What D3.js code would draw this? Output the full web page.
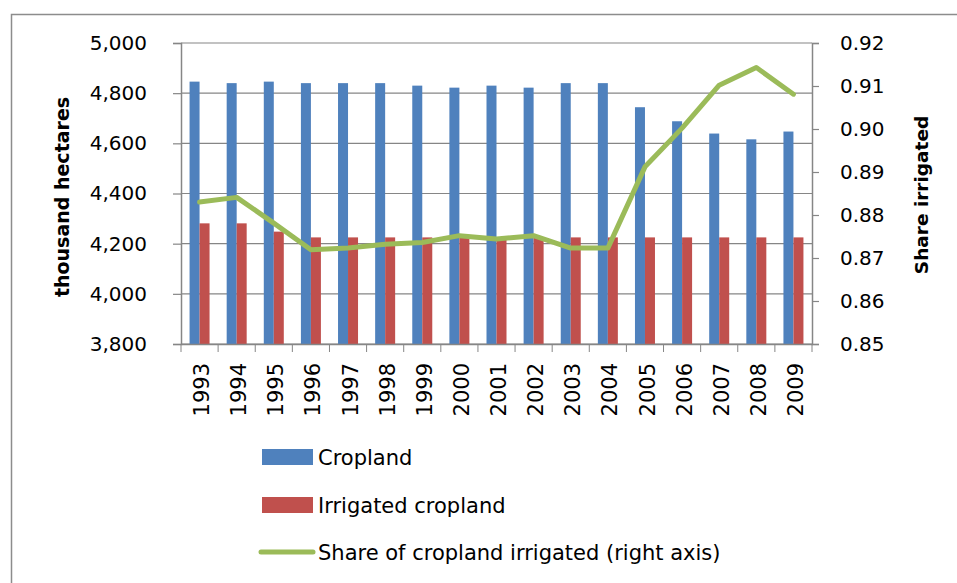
<!DOCTYPE html>
<html>
<head>
<meta charset="utf-8">
<script src="https://cdn.jsdelivr.net/npm/d3@7"></script>
<style>
  body { margin: 0; background: #fff; }
  text { font-family: "DejaVu Sans", sans-serif; fill: #000; }
</style>
</head>
<body>
<div class="chart-container"></div>
<script>
const years = ["1993","1994","1995","1996","1997","1998","1999","2000","2001","2002","2003","2004","2005","2006","2007","2008","2009"];
const cropland = [4846, 4840, 4846, 4840, 4840, 4840, 4830, 4822, 4830, 4822, 4840, 4840, 4744, 4688, 4639, 4616, 4647];
const irrigated = [4281, 4281, 4248, 4225, 4225, 4225, 4225, 4225, 4225, 4225, 4225, 4225, 4225, 4225, 4225, 4225, 4225];
const share = [0.8830, 0.8841, 0.8781, 0.8719, 0.8723, 0.8732, 0.8736, 0.8752, 0.8744, 0.8752, 0.8723, 0.8723, 0.8912, 0.9002, 0.9102, 0.9143, 0.9081];
const leftTicks = [3800, 4000, 4200, 4400, 4600, 4800, 5000];
const rightTicks = [0.85, 0.86, 0.87, 0.88, 0.89, 0.90, 0.91, 0.92];
const legendItems = ["Cropland", "Irrigated cropland", "Share of cropland irrigated (right axis)"];

const width = 957, height = 583;
const blue = "#4f81bd", red = "#c0504d", green = "#9bbb59", grey = "#868686";
const plot = {left: 181, right: 812, top: 43, bottom: 344};

const svg = d3.select(".chart-container")
  .append("svg")
  .attr("width", width)
  .attr("height", height);

// outer chart border
svg.append("rect")
  .attr("x", 11.5).attr("y", 14.5)
  .attr("width", 960).attr("height", 600)
  .attr("fill", "none")
  .attr("stroke", "#8c8c8c")
  .attr("stroke-width", 1.5);

const x = d3.scaleBand().domain(years).range([plot.left, plot.right]);
const yL = d3.scaleLinear().domain([3800, 5000]).range([plot.bottom, plot.top]);
const yR = d3.scaleLinear().domain([0.85, 0.92]).range([plot.bottom, plot.top]);
const barW = 10;

// gridlines
svg.append("g")
  .selectAll("line")
  .data(leftTicks)
  .enter().append("line")
  .attr("x1", plot.left).attr("x2", plot.right)
  .attr("y1", d => yL(d)).attr("y2", d => yL(d))
  .attr("stroke", grey).attr("stroke-width", 1.2);

// bars
svg.append("g")
  .selectAll("rect")
  .data(cropland)
  .enter().append("rect")
  .attr("x", (d, i) => x(years[i]) + x.bandwidth() / 2 - barW)
  .attr("y", d => yL(d))
  .attr("width", barW)
  .attr("height", d => plot.bottom - yL(d))
  .attr("fill", blue);

svg.append("g")
  .selectAll("rect")
  .data(irrigated)
  .enter().append("rect")
  .attr("x", (d, i) => x(years[i]) + x.bandwidth() / 2)
  .attr("y", d => yL(d))
  .attr("width", barW)
  .attr("height", d => plot.bottom - yL(d))
  .attr("fill", red);

// left axis
const leftAxis = svg.append("g")
  .attr("transform", `translate(${plot.left},0)`)
  .call(d3.axisLeft(yL).tickValues(leftTicks).tickFormat(d3.format(",")).tickSize(8).tickPadding(26));
leftAxis.selectAll("text").style("font-size", "20px").style("font-family", "DejaVu Sans");

// right axis
const rightAxis = svg.append("g")
  .attr("transform", `translate(${plot.right},0)`)
  .call(d3.axisRight(yR).tickValues(rightTicks).tickFormat(d3.format(".2f")).tickSize(7).tickPadding(21));
rightAxis.selectAll("text").style("font-size", "20px").style("font-family", "DejaVu Sans");

// bottom axis, ticks at category boundaries
const bottomAxis = svg.append("g")
  .attr("transform", `translate(0,${plot.bottom})`)
  .call(d3.axisBottom(x).tickSize(0).tickFormat(""));
bottomAxis.append("g")
  .selectAll("line")
  .data(d3.range(years.length + 1))
  .enter().append("line")
  .attr("x1", i => plot.left + i * x.step())
  .attr("x2", i => plot.left + i * x.step())
  .attr("y1", 0).attr("y2", 8)
  .attr("stroke", grey);

[leftAxis, rightAxis, bottomAxis].forEach(a => {
  a.select(".domain").attr("stroke", grey).attr("stroke-width", 1.5);
  a.selectAll(".tick line").attr("stroke", grey).attr("stroke-width", 1.2);
});

svg.append("g")
  .selectAll("text")
  .data(years)
  .enter().append("text")
  .attr("transform", d => `translate(${x(d) + x.bandwidth() / 2 + 2},363) rotate(-90)`)
  .attr("text-anchor", "end")
  .attr("dy", "0.36em")
  .style("font-size", "21px")
  .text(d => d);

// share line
const line = d3.line()
  .x((d, i) => x(years[i]) + x.bandwidth() / 2)
  .y(d => yR(d));

svg.append("path")
  .datum(share)
  .attr("d", line)
  .attr("fill", "none")
  .attr("stroke", green)
  .attr("stroke-width", 5)
  .attr("stroke-linejoin", "round")
  .attr("stroke-linecap", "round");

// axis titles
svg.append("text")
  .attr("transform", "translate(62,197) rotate(-90)")
  .attr("text-anchor", "middle")
  .attr("dy", "0.36em")
  .style("font-size", "19px")
  .style("font-weight", "bold")
  .text("thousand hectares");

svg.append("text")
  .attr("transform", "translate(921,195) rotate(-90)")
  .attr("text-anchor", "middle")
  .attr("dy", "0.36em")
  .style("font-size", "18.5px")
  .style("font-weight", "bold")
  .text("Share irrigated");

// legend
const legend = svg.append("g");
const legendY = [457, 505, 552];
legendItems.forEach((name, i) => {
  if (i < 2) {
    legend.append("rect")
      .attr("x", 262).attr("y", legendY[i] - 8)
      .attr("width", 51).attr("height", 16)
      .attr("fill", i === 0 ? blue : red);
  } else {
    legend.append("line")
      .attr("x1", 261).attr("x2", 313)
      .attr("y1", legendY[i]).attr("y2", legendY[i])
      .attr("stroke", green).attr("stroke-width", 5)
      .attr("stroke-linecap", "round");
  }
  legend.append("text")
    .attr("x", 318)
    .attr("y", legendY[i])
    .attr("dy", "0.36em")
    .style("font-size", "21px")
    .text(name);
});
</script>
</body>
</html>
